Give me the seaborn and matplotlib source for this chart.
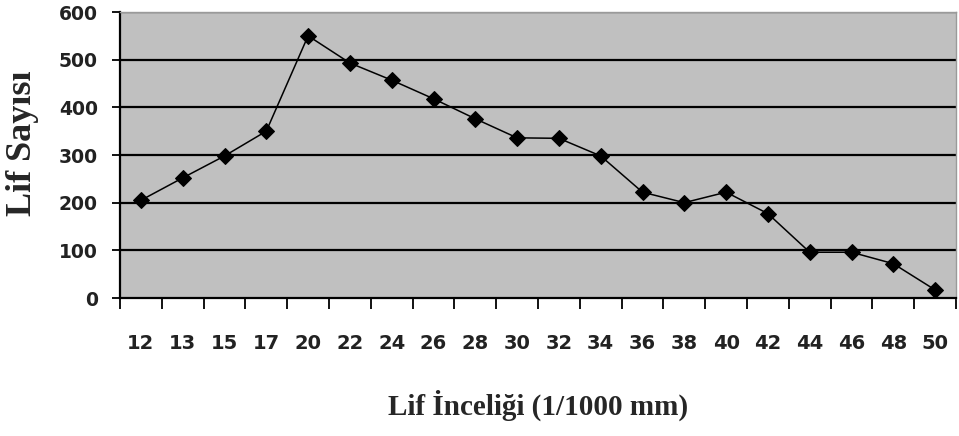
import numpy as np
import pandas as pd
import matplotlib
matplotlib.use("Agg")
import matplotlib.pyplot as plt
import seaborn as sns
from matplotlib.ticker import FixedLocator

categories = ["12", "13", "15", "17", "20", "22", "24", "26", "28", "30",
              "32", "34", "36", "38", "40", "42", "44", "46", "48", "50"]
counts = [205, 252, 298, 350, 550, 493, 457, 418, 376, 336,
          335, 298, 222, 200, 222, 177, 96, 96, 72, 17]
y_ticks = [0, 100, 200, 300, 400, 500, 600]

sns.set_theme(style="white")
plt.rcParams['font.family'] = ['DejaVu Sans']

df = pd.DataFrame({"pos": np.arange(len(categories)), "count": counts})

fig = plt.figure(figsize=(9.59, 4.36), dpi=100)
ax = fig.add_axes([120/959, 138/436, 836/959, 286/436])
ax.set_facecolor("#C0C0C0")

for v in y_ticks[1:]:
    ax.axhline(v, color="black", lw=1.6, zorder=1)

sns.lineplot(data=df, x="pos", y="count", ax=ax, color="black", lw=1.1,
             marker="D", markersize=8, markeredgecolor="black", zorder=3)

ax.set_xlim(-0.5, len(categories) - 0.5)
ax.set_ylim(0, 600)
ax.set_yticks(y_ticks)
ax.set_yticklabels([str(v) for v in y_ticks], fontsize=13.5, fontweight="bold",
                   color="#222222")
ax.set_xticks(np.arange(len(categories)))
ax.set_xticklabels(categories, fontsize=14, fontweight="bold", color="#222222")
ax.xaxis.set_minor_locator(FixedLocator(np.arange(len(categories) + 1) - 0.5))
ax.tick_params(axis="x", which="major", length=0, pad=26)
ax.tick_params(axis="x", which="minor", length=8, width=1.3, color="black",
               direction="out", bottom=True)
ax.tick_params(axis="y", which="major", length=6, width=1.3, color="black",
               direction="out", left=True, pad=10)

for s in ["left", "bottom"]:
    ax.spines[s].set_color("black")
    ax.spines[s].set_linewidth(1.6)
for s in ["top", "right"]:
    ax.spines[s].set_color("#9a9a9a")
    ax.spines[s].set_linewidth(1.0)

ax.set_xlabel("Lif İnceliği (1/1000 mm)", fontsize=21, fontweight="bold",
              family=["Liberation Serif"], labelpad=26)
ax.set_ylabel("Lif Sayısı", fontsize=26, fontweight="bold",
              family=["Liberation Serif"])
ax.yaxis.set_label_coords(-0.097, 0.54)

fig.savefig("out.png", dpi=100, facecolor="white")
